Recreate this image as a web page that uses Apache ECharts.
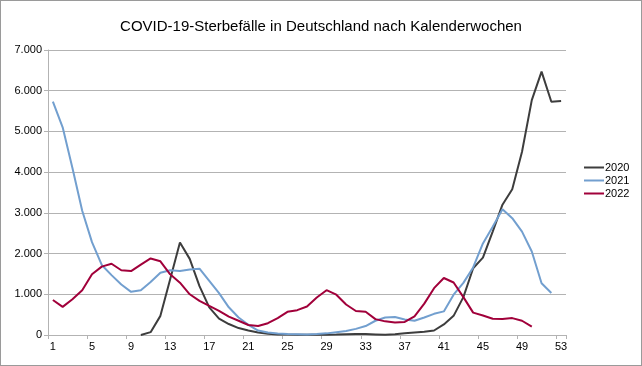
<!DOCTYPE html>
<html>
<head>
<meta charset="utf-8">
<script src="https://cdn.jsdelivr.net/npm/echarts@6/dist/echarts.min.js"></script>
<style>
html,body{margin:0;padding:0;background:#fff;}
#frame{width:642px;height:366px;box-sizing:border-box;border:1px solid #9a9a9a;position:relative;}
#chart{position:absolute;left:-1px;top:-1px;width:642px;height:366px;}
</style>
</head>
<body>
<div id="frame"><div id="chart"></div></div>
<script>
const titleText = 'COVID-19-Sterbefälle in Deutschland nach Kalenderwochen';
const weeks = [];
for (let i = 1; i <= 53; i++) weeks.push(String(i));
const seriesNames = ['2020', '2021', '2022'];
const deaths2020 = [null,null,null,null,null,null,null,null,null,0,70,470,1370,2270,1870,1200,680,400,270,170,110,60,30,15,10,8,6,6,8,12,18,22,22,15,8,20,40,60,80,110,260,470,930,1640,1900,2540,3200,3580,4500,5770,6470,5730,5750];
const deaths2021 = [5730,5100,4100,3050,2280,1720,1470,1240,1060,1100,1300,1530,1590,1570,1610,1630,1330,1030,680,430,250,110,60,35,25,20,15,25,40,70,100,150,220,350,430,440,380,350,430,520,580,990,1280,1660,2250,2660,3090,2870,2540,2050,1270,1030,null];
const deaths2022 = [860,690,880,1100,1490,1680,1750,1590,1570,1730,1880,1810,1490,1285,1000,840,715,595,450,350,245,220,290,415,570,610,700,920,1100,990,750,590,570,390,335,305,320,460,770,1150,1400,1290,930,550,480,400,395,415,350,205,null,null,null];
const colors = ['#3d3d3d', '#729fcf', '#a1003a'];

const fmt = v => String(v).replace(/\B(?=(\d{3})+(?!\d))/g, '.');
const font = 'Liberation Sans, Arial, sans-serif';

const chart = echarts.init(document.getElementById('chart'), null, {renderer: 'canvas'});
const mk = (name, data, color) => ({
  name, type: 'line', data, symbol: 'none', showSymbol: false,
  lineStyle: {color, width: 2}, itemStyle: {color},
  connectNulls: false, animation: false
});
chart.setOption({
  animation: false,
  title: {
    text: titleText, left: 'center', top: 14,
    textStyle: {fontFamily: font, fontSize: 15, fontWeight: 'normal', color: '#000'}
  },
  legend: {
    orient: 'vertical', left: 579, top: 157, itemGap: 2,
    itemWidth: 20, itemHeight: 2, icon: 'rect',
    textStyle: {fontFamily: font, fontSize: 11, color: '#000', padding: [0,0,0,-4]},
    data: seriesNames
  },
  grid: {left: 48, right: 76, top: 50, bottom: 31, containLabel: false},
  xAxis: {
    type: 'category', data: weeks, boundaryGap: true,
    axisLine: {lineStyle: {color: '#b3b3b3', width: 1}},
    axisTick: {show: true, interval: 3, length: 4, lineStyle: {color: '#b3b3b3'}},
    axisLabel: {interval: 3, margin: 6, fontFamily: font, fontSize: 11, color: '#000'},
    splitLine: {show: false}
  },
  yAxis: {
    type: 'value', min: 0, max: 7000, interval: 1000,
    axisLine: {show: true, lineStyle: {color: '#b3b3b3', width: 1}},
    axisTick: {show: true, length: 4, lineStyle: {color: '#b3b3b3'}},
    axisLabel: {margin: 6, fontFamily: font, fontSize: 11, color: '#000', formatter: fmt},
    splitLine: {show: true, lineStyle: {color: '#b3b3b3', width: 1}}
  },
  series: [
    mk(seriesNames[0], deaths2020, colors[0]),
    mk(seriesNames[1], deaths2021, colors[1]),
    mk(seriesNames[2], deaths2022, colors[2])
  ]
});
</script>
</body>
</html>
